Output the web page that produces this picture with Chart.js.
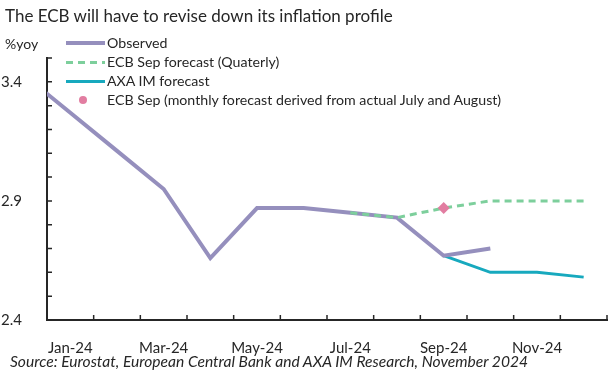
<!DOCTYPE html>
<html>
<head>
<meta charset="utf-8">
<script src="https://cdn.jsdelivr.net/npm/chart.js@4.4.1/dist/chart.umd.min.js"></script>
<style>
  html, body { margin: 0; padding: 0; background: #fff; }
  #wrap { position: relative; width: 614px; height: 379px; font-family: Lato, "Open Sans", sans-serif; color: #262626; }
  #grafico { position: absolute; left: 0; top: 0; }
  .txt { position: absolute; white-space: nowrap; }
  #titulo { left: 5px; top: 5px; font-size: 17px; }
  #unidade { left: 5px; top: 35px; font-size: 14px; }
  #fonte { left: 10px; top: 352px; font-size: 15.6px; font-style: italic; }
  #legenda { position: absolute; left: 66px; top: 33px; font-size: 14.2px; }
  .item { height: 19px; line-height: 19px; display: flex; align-items: center; white-space: nowrap; }
  .amostra { width: 39px; margin-right: 2px; position: relative; height: 19px; }
</style>
</head>
<body>
<div id="wrap">
  <canvas id="grafico" width="614" height="379"></canvas>
  <div class="txt" id="titulo">The ECB will have to revise down its inflation profile</div>
  <div class="txt" id="unidade">%yoy</div>
  <div id="legenda"></div>
  <div class="txt" id="fonte">Source: Eurostat, European Central Bank and AXA IM Research, November 2024</div>
</div>
<script>
const meses = ["Dec-23", "Jan-24", "Feb-24", "Mar-24", "Apr-24", "May-24", "Jun-24",
               "Jul-24", "Aug-24", "Sep-24", "Oct-24", "Nov-24", "Dec-24"];
const rotulosX = ["Jan-24", "Mar-24", "May-24", "Jul-24", "Sep-24", "Nov-24"];
const rotulosY = [2.4, 2.9, 3.4];

const observado     = [3.43, 3.27, 3.11, 2.95, 2.66, 2.87, 2.87, 2.85, 2.83, 2.67, 2.70, null, null];
const bceTrimestral = [null, null, null, null, null, null, null, 2.85, 2.83, 2.87, 2.90, 2.90, 2.90];
const axaPrevisao   = [null, null, null, null, null, null, null, null, null, 2.67, 2.60, 2.60, 2.58];
const bceMensal     = [null, null, null, null, null, null, null, null, null, 2.87, null, null, null];

const corTexto = "#262626";

const marcasInternas = {
  id: "marcasInternas",
  afterDraw(chart) {
    const { ctx, chartArea: a, scales: { x, y } } = chart;
    ctx.save();
    ctx.strokeStyle = corTexto;
    ctx.lineWidth = 1.5;
    ctx.beginPath();
    y.ticks.forEach(t => {
      const py = y.getPixelForValue(t.value);
      ctx.moveTo(a.left, py);
      ctx.lineTo(a.left + 5, py);
    });
    for (let i = x.min - 0.5; i <= x.max + 0.5; i++) {
      const px = x.getPixelForValue(i);
      ctx.moveTo(px, a.bottom);
      ctx.lineTo(px, a.bottom - 5);
    }
    ctx.stroke();
    ctx.restore();
  }
};

const ctx = document.getElementById("grafico").getContext("2d");

const grafico = new Chart(ctx, {
  type: "line",
  data: {
    labels: meses,
    datasets: [
      {
        label: "Observed",
        data: observado,
        borderColor: "#958FBD",
        borderWidth: 4,
        pointRadius: 0,
        clip: 0,
        order: 2
      },
      {
        label: "ECB Sep forecast (Quaterly)",
        data: bceTrimestral,
        borderColor: "#7DCF9C",
        borderWidth: 3,
        borderDash: [7, 5],
        pointRadius: 0,
        order: 1
      },
      {
        label: "AXA IM forecast",
        data: axaPrevisao,
        borderColor: "#17A9BE",
        borderWidth: 3,
        pointRadius: 0,
        order: 3
      },
      {
        label: "ECB Sep (monthly forecast derived from actual July and August)",
        data: bceMensal,
        showLine: false,
        borderColor: "#E27DA1",
        backgroundColor: "#E27DA1",
        pointStyle: "rectRot",
        pointRadius: 6,
        pointBorderWidth: 0,
        order: 0
      }
    ]
  },
  options: {
    responsive: false,
    animation: false,
    layout: { padding: { top: 58, right: 7, left: 0, bottom: 0 } },
    plugins: {
      legend: { display: false },
      tooltip: { enabled: false }
    },
    scales: {
      x: {
        min: "Jan-24",
        offset: true,
        grid: { display: false },
        border: { display: true, color: corTexto, width: 2 },
        ticks: {
          autoSkip: false,
          maxRotation: 0,
          padding: 11,
          color: corTexto,
          font: { family: "Lato", size: 15 },
          callback: function (val) {
            const l = this.getLabelForValue(val);
            return rotulosX.includes(l) ? l : "";
          }
        },
        afterFit: s => { s.height = 59; }
      },
      y: {
        min: 2.4,
        max: 3.5,
        grid: { display: false },
        border: { display: true, color: corTexto, width: 2 },
        ticks: {
          stepSize: 0.1,
          maxTicksLimit: 20,
          autoSkip: false,
          padding: 17,
          color: corTexto,
          font: { family: "Lato", size: 15 },
          callback: function (v) {
            const r = Math.round(v * 10) / 10;
            return rotulosY.includes(r) ? r.toFixed(1) : "";
          }
        },
        afterFit: s => { s.width = 47; }
      }
    }
  },
  plugins: [marcasInternas]
});

// legenda em HTML, uma linha por série
const legenda = document.getElementById("legenda");
grafico.data.datasets.forEach(ds => {
  const item = document.createElement("div");
  item.className = "item";
  const amostra = document.createElement("span");
  amostra.className = "amostra";
  const marca = document.createElement("span");
  marca.style.position = "absolute";
  if (ds.showLine === false) {
    marca.style.left = "13px";
    marca.style.top = "6px";
    marca.style.width = "8px";
    marca.style.height = "8px";
    marca.style.borderRadius = "50%";
    marca.style.background = ds.backgroundColor;
  } else {
    marca.style.left = "0";
    marca.style.width = "39px";
    marca.style.height = ds.borderWidth + "px";
    marca.style.top = (10 - ds.borderWidth / 2) + "px";
    if (ds.borderDash) {
      const [d, g] = ds.borderDash;
      marca.style.background = `repeating-linear-gradient(to right, ${ds.borderColor} 0 ${d}px, transparent ${d}px ${d + g}px)`;
    } else {
      marca.style.background = ds.borderColor;
    }
  }
  amostra.appendChild(marca);
  item.appendChild(amostra);
  item.appendChild(document.createTextNode(ds.label));
  legenda.appendChild(item);
});
</script>
</body>
</html>
